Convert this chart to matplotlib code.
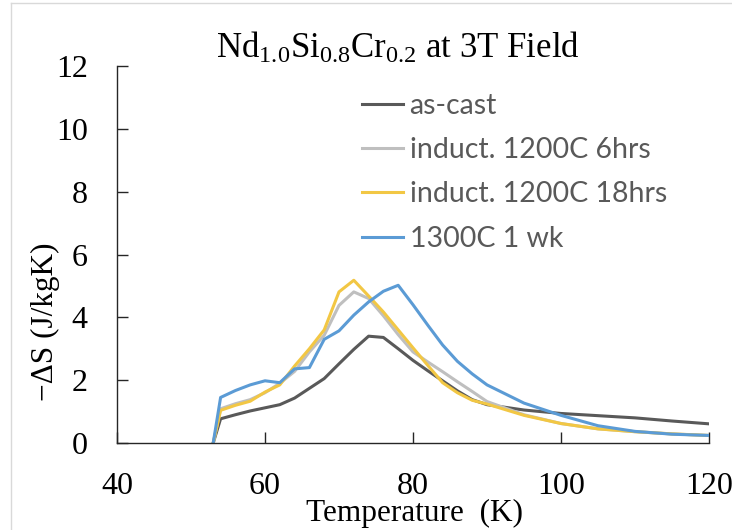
import matplotlib
matplotlib.use("Agg")
import matplotlib.pyplot as plt
from matplotlib.lines import Line2D

plt.rcParams['mathtext.fontset'] = 'custom'
plt.rcParams['mathtext.rm'] = 'Liberation Serif'
plt.rcParams['mathtext.it'] = 'Liberation Serif:italic'

#==== data ====
temp = [53, 54, 56, 58, 60, 62, 64, 66, 68, 70, 72, 74, 76, 78, 80,
        82, 84, 86, 88, 90, 95, 100, 105, 110, 115, 120]
as_cast = [0, 0.77, 0.90, 1.02, 1.12, 1.22, 1.43, 1.74, 2.05, 2.52, 2.98, 3.40, 3.36,
           3.00, 2.63, 2.30, 1.98, 1.66, 1.38, 1.22, 1.05, 0.94, 0.87, 0.80, 0.70, 0.61]
ind_6h = [0, 1.09, 1.25, 1.38, 1.60, 1.90, 2.28, 2.90, 3.43, 4.38, 4.81, 4.60, 4.05,
          3.45, 2.90, 2.58, 2.27, 1.95, 1.64, 1.32, 0.90, 0.62, 0.45, 0.36, 0.29, 0.24]
ind_18h = [0, 1.04, 1.20, 1.33, 1.62, 1.85, 2.45, 3.00, 3.60, 4.81, 5.18, 4.68, 4.17,
           3.60, 3.03, 2.47, 1.92, 1.60, 1.36, 1.24, 0.88, 0.62, 0.45, 0.36, 0.29, 0.24]
wk_1300 = [0, 1.45, 1.67, 1.85, 1.98, 1.92, 2.36, 2.40, 3.30, 3.57, 4.07, 4.49, 4.83,
           5.02, 4.40, 3.75, 3.12, 2.60, 2.20, 1.85, 1.27, 0.88, 0.55, 0.37, 0.28, 0.24]

labels = ['as-cast', 'induct. 1200C 6hrs', 'induct. 1200C 18hrs', '1300C 1 wk']
colors = ['#595959', '#BFBFBF', '#F2C744', '#5B9BD5']
xticks = [40, 60, 80, 100, 120]
yticks = [0, 2, 4, 6, 8, 10, 12]

#==== plot ====
fig = plt.figure(figsize=(7.32, 5.30), dpi=100)
ax = fig.add_axes([117/732, 1-443/530, (709-117)/732, (443-66)/530])

for ys, lab, c in zip([as_cast, ind_6h, ind_18h, wk_1300], labels, colors):
    ax.plot(temp, ys, color=c, lw=2.2, label=lab)

ax.set_xlim(40, 120)
ax.set_ylim(0, 12)
ax.set_xticks(xticks)
ax.set_yticks(yticks)
ax.spines['top'].set_visible(False)
ax.spines['right'].set_visible(False)
for s in ['left', 'bottom']:
    ax.spines[s].set_color('#262626')
    ax.spines[s].set_linewidth(1.0)
ax.tick_params(direction='in', length=8, width=1, color='#262626', pad=21,
               labelsize=23, labelcolor='black')
for t in ax.get_xticklabels() + ax.get_yticklabels():
    t.set_fontfamily('Liberation Serif')

leg = ax.legend(loc='upper left', bbox_to_anchor=((362-117)/592, (443-93)/377), frameon=False,
                prop={'family': 'Lato', 'size': 20.5}, handlelength=1.45, handletextpad=0.22,
                labelspacing=0.64, borderaxespad=0, borderpad=0)
for t in leg.get_texts():
    t.set_color('#595959')

fig.text(216/732, 1-58/530, r'Nd$_{\mathrm{1.0}}$Si$_{\mathrm{0.8}}$Cr$_{\mathrm{0.2}}$ at 3T Field',
         ha='left', va='baseline', fontsize=25, family='Liberation Serif')
fig.text(414/732, 1-513/530, 'Temperature  (K)', ha='center', va='center',
         fontsize=22.5, family='Liberation Serif')
fig.text(45/732, 1-322/530, '\u2212\u0394S (J/kgK)', ha='center', va='center',
         rotation=90, fontsize=22.5, family='Liberation Serif')

# light chart-area border on top and left
fig.add_artist(Line2D([11/732, 11/732], [0, 1-2.5/530], color='#D9D9D9', lw=1))
fig.add_artist(Line2D([11/732, 1], [1-2.5/530, 1-2.5/530], color='#D9D9D9', lw=1))

fig.savefig('out.png', dpi=100)
